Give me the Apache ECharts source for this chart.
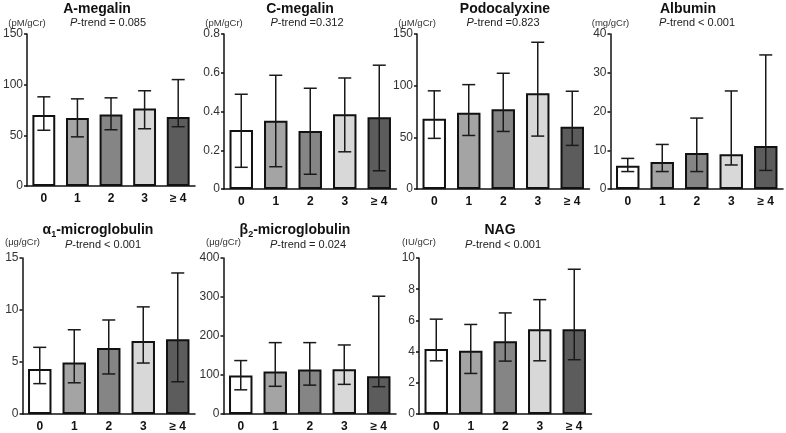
<!DOCTYPE html>
<html><head><meta charset="utf-8">
<script src="https://cdn.jsdelivr.net/npm/echarts@6/dist/echarts.min.js"></script>
<style>html,body{margin:0;padding:0;background:#fff}#c{width:786px;height:433px}</style>
</head><body><div id="c"></div>
<script>
const categories = ['0', '1', '2', '3', '≥ 4'];
const barColors = ['#ffffff', '#a4a4a4', '#858585', '#d8d8d8', '#5c5c5c'];

const aMegMed = [70, 67, 70.5, 76.5, 68];
const aMegLow = [55, 48.5, 55.5, 56.5, 58.5];
const aMegHigh = [88, 86, 87, 94, 105];

const cMegMed = [0.304, 0.352, 0.300, 0.386, 0.370];
const cMegLow = [0.112, 0.115, 0.076, 0.192, 0.094];
const cMegHigh = [0.489, 0.587, 0.520, 0.573, 0.639];

const podoMed = [68, 73.7, 77.2, 92.7, 60.2];
const podoLow = [49, 51.8, 55.7, 51.2, 42.2];
const podoHigh = [95, 101, 112, 142, 94.6];

const albMed = [6.0, 7.0, 9.3, 9.0, 11.1];
const albLow = [4.5, 4.5, 4.5, 6.2, 4.8];
const albHigh = [7.9, 11.5, 18.3, 25.3, 34.6];

const a1Med = [4.33, 4.94, 6.35, 7.02, 7.18];
const a1Low = [2.92, 3.0, 3.85, 4.9, 3.1];
const a1High = [6.41, 8.1, 9.04, 10.3, 13.56];

const b2Med = [99, 109, 114, 115, 97];
const b2Low = [62, 71, 74, 76, 70];
const b2High = [137, 183, 183, 177, 302];

const nagMed = [4.16, 4.05, 4.67, 5.44, 5.44];
const nagLow = [3.41, 2.6, 3.39, 3.41, 3.48];
const nagHigh = [6.08, 5.74, 6.48, 7.33, 9.28];

const panelTitles = ['A-megalin', 'C-megalin', 'Podocalyxine', 'Albumin', '{t|α}{s|1}{t|-microglobulin}', '{t|β}{s|2}{t|-microglobulin}', 'NAG'];
const panelTrends = ['= 0.085', '=0.312', '=0.823', '< 0.001', '< 0.001', '= 0.024', '< 0.001'];
const panelUnits = ['(pM/gCr)', '(pM/gCr)', '(μM/gCr)', '(mg/gCr)', '(μg/gCr)', '(μg/gCr)', '(IU/gCr)'];
const axisMax = [150, 0.8, 150, 40, 15, 400, 10];
const axisStep = [50, 0.2, 50, 10, 5, 100, 2];
const medians = [aMegMed, cMegMed, podoMed, albMed, a1Med, b2Med, nagMed];
const lows = [aMegLow, cMegLow, podoLow, albLow, a1Low, b2Low, nagLow];
const highs = [aMegHigh, cMegHigh, podoHigh, albHigh, a1High, b2High, nagHigh];

// layout
const grids = [
  {left: 22.5, top: 34, width: 172.5, height: 152},
  {left: 224, top: 34, width: 172.5, height: 155},
  {left: 417, top: 34, width: 172.5, height: 155},
  {left: 610.5, top: 34, width: 172.5, height: 155},
  {left: 22.5, top: 258, width: 172.5, height: 156},
  {left: 223.5, top: 258, width: 172.5, height: 156},
  {left: 419, top: 258, width: 172.5, height: 156}
];
const titlePos = [[97, 2], [300, 2], [505, 2], [688, 2], [98, 222], [295, 222], [500, 223]];
const trendPos = [[108, 17], [307, 17], [503, 17], [697, 17], [103, 239], [308, 239], [503, 239]];

const FONT = 'Liberation Sans, Arial, Helvetica, sans-serif';
const option = {
  animation: false,
  backgroundColor: '#fff',
  title: [],
  grid: [], xAxis: [], yAxis: [], series: []
};

panelTitles.forEach((t, i) => {
  option.title.push({
    text: t, left: titlePos[i][0], top: titlePos[i][1], textAlign: 'center', padding: 0,
    textStyle: {fontFamily: FONT, fontSize: 14, fontWeight: 'bold', color: '#111',
      rich: {
        t: {fontFamily: FONT, fontSize: 14, fontWeight: 'bold', color: '#111', lineHeight: 16},
        s: {fontFamily: FONT, fontSize: 9, fontWeight: 'bold', color: '#111', padding: [9, 0, 0, 0], lineHeight: 10}
      }}
  });
  option.title.push({
    text: '{i|P}-trend ' + panelTrends[i], left: trendPos[i][0], top: trendPos[i][1], textAlign: 'center', padding: 0,
    textStyle: {fontFamily: FONT, fontSize: 11, fontWeight: 'normal', color: '#222',
      rich: {i: {fontStyle: 'italic', fontFamily: FONT, fontSize: 11, color: '#222'}}}
  });
  const g = grids[i];
  option.grid.push({left: g.left, top: g.top, width: g.width, height: g.height, containLabel: false});
  option.xAxis.push({
    type: 'category', gridIndex: i, data: categories,
    axisLine: {lineStyle: {color: '#111', width: 1.5}},
    axisTick: {alignWithLabel: true, length: 4, lineStyle: {color: '#111', width: 1.5}},
    axisLabel: {fontFamily: FONT, fontSize: 12, fontWeight: 'bold', color: '#111', margin: 7}
  });
  option.yAxis.push({
    type: 'value', gridIndex: i, min: 0, max: axisMax[i], interval: axisStep[i],
    name: panelUnits[i], nameLocation: 'end', nameGap: i < 4 ? 6 : 11,
    nameTextStyle: {fontFamily: FONT, fontSize: 9.5, color: '#333', align: 'center'},
    axisLine: {show: true, lineStyle: {color: '#111', width: 1.5}},
    axisTick: {show: true, length: 3, lineStyle: {color: '#111', width: 1.5}},
    axisLabel: {fontFamily: FONT, fontSize: 12, color: '#333', margin: 4},
    splitLine: {show: false}
  });
  option.series.push({
    type: 'bar', xAxisIndex: i, yAxisIndex: i, barWidth: '68%',
    data: medians[i].map((v, k) => ({value: v, itemStyle: {color: barColors[k]}})),
    itemStyle: {borderColor: '#111', borderWidth: 2},
    z: 2
  });
  option.series.push({
    type: 'custom', xAxisIndex: i, yAxisIndex: i, z: 3,
    data: lows[i].map((lo, k) => [k, lo, highs[i][k]]),
    renderItem: function (params, api) {
      const p1 = api.coord([api.value(0), api.value(1)]);
      const p2 = api.coord([api.value(0), api.value(2)]);
      const hw = 6.5;
      const st = {stroke: '#1a1a1a', lineWidth: 1.5};
      return {type: 'group', children: [
        {type: 'line', shape: {x1: p1[0], y1: p1[1], x2: p2[0], y2: p2[1]}, style: st},
        {type: 'line', shape: {x1: p1[0] - hw, y1: p1[1], x2: p1[0] + hw, y2: p1[1]}, style: st},
        {type: 'line', shape: {x1: p2[0] - hw, y1: p2[1], x2: p2[0] + hw, y2: p2[1]}, style: st}
      ]};
    }
  });
});

const chart = echarts.init(document.getElementById('c'), null, {renderer: 'canvas'});
chart.setOption(option);
</script></body></html>
